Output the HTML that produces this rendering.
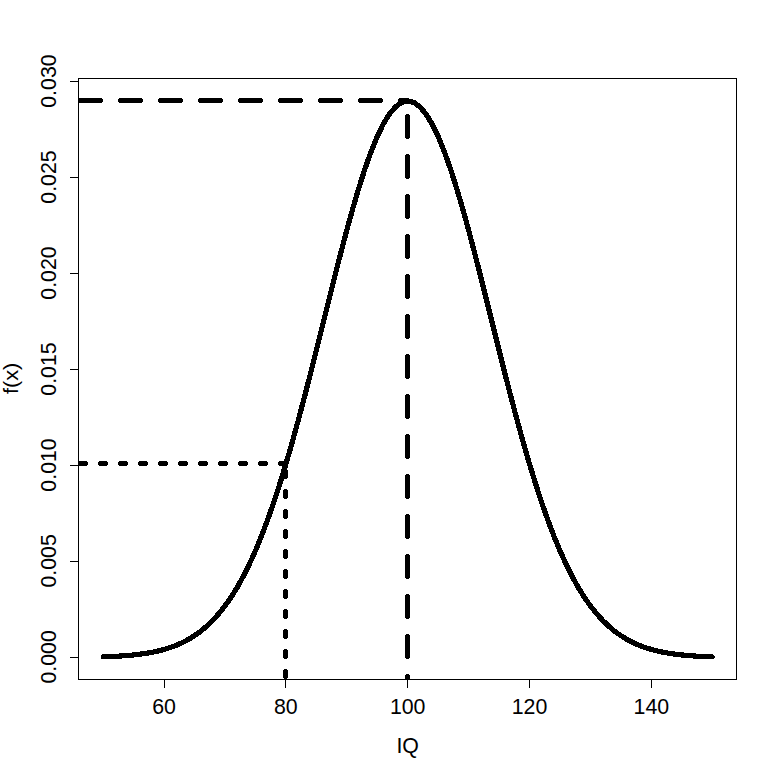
<!DOCTYPE html>
<html><head><meta charset="utf-8"><title>Normal density</title>
<style>html,body{margin:0;padding:0;background:#fff;}body{width:777px;height:777px;overflow:hidden;font-family:"Liberation Sans",sans-serif;}</style></head>
<body>
<svg width="777" height="777" viewBox="0 0 777 777" style="display:block">
<rect width="777" height="777" fill="#fff"/>
<defs><clipPath id="c"><rect x="78" y="78" width="659" height="602"/></clipPath></defs>
<g shape-rendering="crispEdges" stroke="#000" fill="none">
<rect x="78.5" y="78.5" width="658" height="601" stroke-width="1"/>
<line x1="164.5" y1="679" x2="164.5" y2="688" stroke-width="1"/>
<line x1="285.5" y1="679" x2="285.5" y2="688" stroke-width="1"/>
<line x1="407.5" y1="679" x2="407.5" y2="688" stroke-width="1"/>
<line x1="529.5" y1="679" x2="529.5" y2="688" stroke-width="1"/>
<line x1="651.5" y1="679" x2="651.5" y2="688" stroke-width="1"/>
<line x1="70" y1="657.5" x2="78" y2="657.5" stroke-width="1"/>
<line x1="70" y1="561.5" x2="78" y2="561.5" stroke-width="1"/>
<line x1="70" y1="465.5" x2="78" y2="465.5" stroke-width="1"/>
<line x1="70" y1="369.5" x2="78" y2="369.5" stroke-width="1"/>
<line x1="70" y1="273.5" x2="78" y2="273.5" stroke-width="1"/>
<line x1="70" y1="177.5" x2="78" y2="177.5" stroke-width="1"/>
<line x1="70" y1="81.5" x2="78" y2="81.5" stroke-width="1"/>
</g>
<g shape-rendering="crispEdges" stroke="#000" fill="none" stroke-width="5" stroke-linecap="round" stroke-linejoin="round" clip-path="url(#c)">
<path d="M103.09,656.84 L109.18,656.62 L115.27,656.33 L121.37,655.97 L127.46,655.52 L133.55,654.96 L139.64,654.25 L145.73,653.39 L151.83,652.33 L157.92,651.04 L164.01,649.48 L170.10,647.59 L176.20,645.33 L182.29,642.64 L188.38,639.46 L194.47,635.72 L200.56,631.35 L206.66,626.26 L212.75,620.39 L218.84,613.66 L224.93,605.97 L231.03,597.26 L237.12,587.46 L243.21,576.49 L249.30,564.29 L255.39,550.83 L261.49,536.08 L267.58,520.01 L273.67,502.64 L279.76,484.00 L285.86,464.13 L291.95,443.14 L298.04,421.11 L304.13,398.20 L310.22,374.57 L316.32,350.41 L322.41,325.95 L328.50,301.43 L334.59,277.11 L340.69,253.27 L346.78,230.20 L352.87,208.20 L358.96,187.55 L365.05,168.55 L371.15,151.46 L377.24,136.54 L383.33,124.00 L389.42,114.04 L395.52,106.81 L401.61,102.42 L407.70,100.96 L413.79,102.42 L419.88,106.81 L425.98,114.04 L432.07,124.00 L438.16,136.54 L444.25,151.46 L450.35,168.55 L456.44,187.55 L462.53,208.20 L468.62,230.20 L474.71,253.27 L480.81,277.11 L486.90,301.43 L492.99,325.95 L499.08,350.41 L505.18,374.57 L511.27,398.20 L517.36,421.11 L523.45,443.14 L529.54,464.13 L535.64,484.00 L541.73,502.64 L547.82,520.01 L553.91,536.08 L560.01,550.83 L566.10,564.29 L572.19,576.49 L578.28,587.46 L584.37,597.26 L590.47,605.97 L596.56,613.66 L602.65,620.39 L608.74,626.26 L614.84,631.35 L620.93,635.72 L627.02,639.46 L633.11,642.64 L639.20,645.33 L645.30,647.59 L651.39,649.48 L657.48,651.04 L663.57,652.33 L669.67,653.39 L675.76,654.25 L681.85,654.96 L687.94,655.52 L694.03,655.97 L700.13,656.33 L706.22,656.62 L712.31,656.84" stroke-width="5.2"/>
<line x1="40.5" y1="100.5" x2="407.70" y2="100.5" stroke-dasharray="20 20"/>
<line x1="407.5" y1="696.5" x2="407.5" y2="100.5" stroke-dasharray="20 20" stroke-dashoffset="0"/>
<line x1="60.5" y1="463.5" x2="285.86" y2="463.5" stroke-dasharray="5 15"/>
<line x1="285.5" y1="696.5" x2="285.5" y2="463.5" stroke-dasharray="5 15"/>
</g>
<g font-family="Liberation Sans, sans-serif" font-size="21.33px" fill="#000" text-anchor="middle">
<text x="164.01" y="713.8">60</text>
<text x="285.86" y="713.8">80</text>
<text x="407.70" y="713.8">100</text>
<text x="529.54" y="713.8">120</text>
<text x="651.39" y="713.8">140</text>
<text transform="translate(55.9,656.90) rotate(-90)">0.000</text>
<text transform="translate(55.9,560.93) rotate(-90)">0.005</text>
<text transform="translate(55.9,464.95) rotate(-90)">0.010</text>
<text transform="translate(55.9,368.98) rotate(-90)">0.015</text>
<text transform="translate(55.9,273.01) rotate(-90)">0.020</text>
<text transform="translate(55.9,177.03) rotate(-90)">0.025</text>
<text transform="translate(55.9,81.06) rotate(-90)">0.030</text>
<text x="407.70" y="752.5">IQ</text>
<text transform="translate(17.8,378.40) rotate(-90) scale(1.02,0.92)">f(x)</text>
</g>
</svg>
</body></html>
